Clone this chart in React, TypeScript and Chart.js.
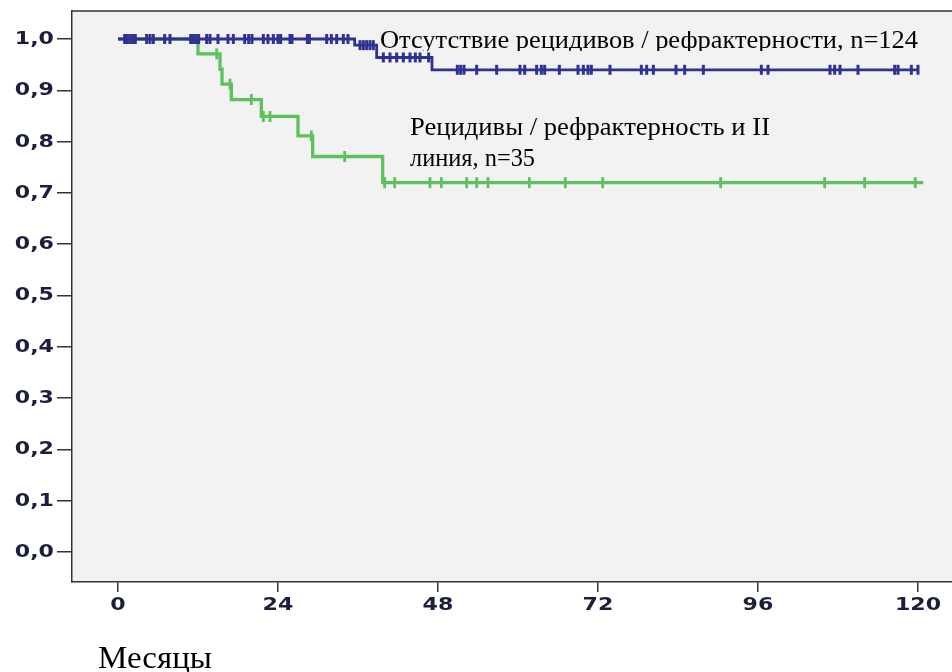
import React, { useEffect, useRef } from "react";
import { Chart, registerables } from "chart.js";

Chart.register(...registerables);

// ---- Data ----
const xTicks = [0, 24, 48, 72, 96, 120];
const yTicks = [0, 0.1, 0.2, 0.3, 0.4, 0.5, 0.6, 0.7, 0.8, 0.9, 1.0];

// "Отсутствие рецидивов / рефрактерности, n=124"
const blueTimes = [0, 35.5, 38.8, 47.1, 120];
const blueSurv = [1.0, 0.988, 0.964, 0.94, 0.94];
const blueCensored = [
  1.0, 1.4, 1.8, 2.2, 2.6, 4.3, 4.8, 5.3, 7.0, 7.8, 10.9, 11.3, 11.7, 12.1, 13.3, 13.8, 15.0,
  16.5, 17.3, 19.0, 19.6, 20.1, 21.8, 22.5, 23.3, 24.0, 24.4, 25.8, 26.1, 28.4, 28.7, 31.3,
  32.0, 32.8, 33.8, 34.5,
  36.3, 36.8, 37.3, 37.8, 38.3,
  39.8, 40.8, 41.8, 42.8, 43.8, 44.6, 45.3, 46.6,
  50.9, 51.4, 51.9, 53.8, 56.8, 60.3, 61.0, 62.8, 63.5, 64.0, 66.2, 69.0, 69.8, 70.5, 71.0,
  73.8, 78.5, 79.3, 80.3, 83.7, 85.0, 87.8, 96.5, 97.5, 106.8, 107.5, 108.3, 111.0, 116.5,
  117.0, 119.0, 120.0,
];

// "Рецидивы / рефрактерность и II линия, n=35"
const greenTimes = [0, 12.0, 15.3, 15.6, 17.0, 21.5, 27.0, 29.2, 39.7, 120.8];
const greenSurv = [1.0, 0.971, 0.941, 0.912, 0.882, 0.849, 0.811, 0.771, 0.72, 0.72];
const greenCensored = [
  14.8, 16.8, 20.0, 21.8, 22.8, 29.0, 34.0, 40.0, 41.5, 46.8, 48.5, 52.3, 53.8, 55.5, 61.7,
  67.1, 72.7, 90.4, 106.0, 112.0, 119.6,
];

const blueLabel = "Отсутствие рецидивов / рефрактерности, n=124";
const greenLabel1 = "Рецидивы / рефрактерность и II";
const greenLabel2 = "линия, n=35";
const xTitle = "Месяцы";

const BLUE = "#2f3290";
const GREEN = "#5cc25c";

function survAt(times: number[], surv: number[], t: number) {
  let v = surv[0];
  for (let i = 0; i < times.length; i++) if (times[i] <= t) v = surv[i];
  return v;
}

function fitText(ctx: CanvasRenderingContext2D, text: string, x: number, y: number, width: number) {
  const w = ctx.measureText(text).width;
  ctx.save();
  ctx.translate(x, y);
  ctx.scale(width / w, 1);
  ctx.textAlign = "left";
  ctx.fillText(text, 0, 0);
  ctx.restore();
}

const decorPlugin = {
  id: "decor",
  beforeDraw(chart: any) {
    const { ctx, chartArea: a } = chart;
    ctx.save();
    ctx.fillStyle = "#ffffff";
    ctx.fillRect(0, 0, chart.width, chart.height);
    ctx.fillStyle = "#f2f2f2";
    ctx.fillRect(a.left, a.top, a.right - a.left, a.bottom - a.top);
    ctx.restore();
  },
  afterDraw(chart: any) {
    const { ctx, chartArea: a } = chart;
    const xs = chart.scales.x;
    const ys = chart.scales.y;
    ctx.save();
    // top border
    ctx.strokeStyle = "#333333";
    ctx.lineWidth = 1.5;
    ctx.beginPath();
    ctx.moveTo(a.left, a.top);
    ctx.lineTo(a.right, a.top);
    ctx.stroke();

    // tick labels (wide bold face)
    ctx.fillStyle = "#1b1e3c";
    ctx.font = "bold 17px 'DejaVu Sans'";
    ctx.textBaseline = "middle";
    const sx = 1.3;
    yTicks.forEach((v) => {
      const y = ys.getPixelForValue(v);
      ctx.save();
      ctx.translate(54, y + 0.5);
      ctx.scale(sx, 1);
      ctx.textAlign = "right";
      ctx.fillText(v.toFixed(1).replace(".", ","), 0, 0);
      ctx.restore();
    });
    xTicks.forEach((v) => {
      const x = xs.getPixelForValue(v);
      ctx.save();
      ctx.translate(x, 606);
      ctx.scale(sx, 1);
      ctx.textAlign = "center";
      ctx.fillText(String(v), 0, 0);
      ctx.restore();
    });

    // annotations
    ctx.fillStyle = "#000000";
    ctx.textBaseline = "alphabetic";
    ctx.font = "25px 'Liberation Serif'";
    ctx.save();
    ctx.beginPath();
    ctx.rect(0, 31, chart.width, 20);
    ctx.clip();
    fitText(ctx, blueLabel, 380, 48, 538);
    ctx.restore();
    fitText(ctx, greenLabel1, 410, 135, 360);
    fitText(ctx, greenLabel2, 410, 165.5, 125);

    ctx.font = "32px 'Liberation Serif'";
    fitText(ctx, xTitle, 98, 668, 114);
    ctx.restore();
  },
};

export default function App() {
  const ref = useRef<HTMLCanvasElement>(null);
  useEffect(() => {
    if (!ref.current) return;
    const stepData = (t: number[], s: number[]) => t.map((x, i) => ({ x, y: s[i] }));
    const censorData = (c: number[], t: number[], s: number[]) =>
      c.map((x) => ({ x, y: survAt(t, s, x) }));

    const chart = new Chart(ref.current, {
      type: "line",
      data: {
        datasets: [
          {
            data: censorData(blueCensored, blueTimes, blueSurv),
            showLine: false,
            pointStyle: "line",
            pointRotation: 90,
            pointRadius: 5,
            pointBorderWidth: 3,
            pointBorderColor: BLUE,
            pointBackgroundColor: BLUE,
            borderColor: BLUE,
            order: 0,
          } as any,
          {
            data: stepData(blueTimes, blueSurv),
            stepped: "before",
            borderColor: BLUE,
            borderWidth: 2.8,
            pointRadius: 0,
            order: 1,
          } as any,
          {
            data: censorData(greenCensored, greenTimes, greenSurv),
            showLine: false,
            pointStyle: "line",
            pointRotation: 90,
            pointRadius: 5.5,
            pointBorderWidth: 2.8,
            pointBorderColor: GREEN,
            pointBackgroundColor: GREEN,
            borderColor: GREEN,
            order: 2,
          } as any,
          {
            data: stepData(greenTimes, greenSurv),
            stepped: "before",
            borderColor: GREEN,
            borderWidth: 3.3,
            pointRadius: 0,
            order: 3,
          } as any,
        ],
      },
      options: {
        responsive: false,
        animation: false,
        events: [],
        devicePixelRatio: 1,
        layout: { autoPadding: false, padding: { top: 11, left: 0, right: 0, bottom: 0 } },
        plugins: { legend: { display: false }, tooltip: { enabled: false } },
        scales: {
          x: {
            type: "linear",
            min: -6.9,
            max: 125.1,
            afterBuildTicks: (s: any) => {
              s.ticks = xTicks.map((value) => ({ value }));
            },
            afterFit: (s: any) => {
              s.height = 90;
            },
            ticks: { display: false },
            grid: {
              drawOnChartArea: false,
              drawTicks: true,
              tickLength: 10,
              color: "#333333",
              lineWidth: 1.5,
            },
            border: { display: true, color: "#333333", width: 1.5 },
          },
          y: {
            type: "linear",
            min: -0.0585,
            max: 1.0546,
            afterBuildTicks: (s: any) => {
              s.ticks = yTicks.map((value) => ({ value }));
            },
            afterFit: (s: any) => {
              s.width = 72;
            },
            ticks: { display: false },
            grid: {
              drawOnChartArea: false,
              drawTicks: true,
              tickLength: 15,
              color: "#333333",
              lineWidth: 1.5,
            },
            border: { display: true, color: "#333333", width: 1.5 },
          },
        },
      } as any,
      plugins: [decorPlugin],
    });
    return () => chart.destroy();
  }, []);

  return (
    <div style={{ position: "absolute", left: 0, top: 0, width: 952, height: 672 }}>
      <canvas ref={ref} width={952} height={672} style={{ display: "block" }} />
    </div>
  );
}
